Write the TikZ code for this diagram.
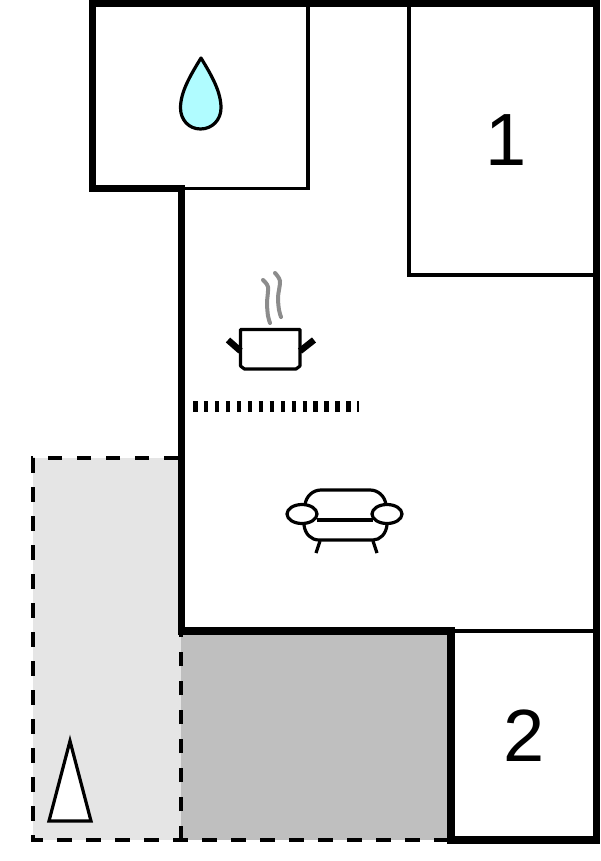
\documentclass[tikz,border=0pt]{standalone}
\usepackage{fontspec}
\setmainfont{Liberation Sans}
\definecolor{dropblue}{HTML}{B0FCFF}
\tikzset{
    wall/.style={line width=7.5pt, line cap=rect},
    thinwall/.style={line width=3.2pt},
    outline/.style={line width=3.2pt, line join=round},
    terrace/.style={line width=4pt, dash pattern=on 14.5pt off 14.5pt},
    roomnumber/.style={font=\fontsize{74}{74}\selectfont, inner sep=0pt}
}

\begin{document}
\begin{tikzpicture}[x=1pt, y=-1pt]
        \useasboundingbox (0,0) rectangle (600,861);
        % terraces
        \fill[color=black!10] (33,458) rectangle (181,840);
        \fill[color=black!25] (181,634) rectangle (449,840);
        \draw[terrace] (180.5,840) -- (180.5,634);
        \draw[terrace] (178,458) -- (33,458) -- (33,840) -- (447,840);
        % inner walls
        \draw[thinwall] (181,188.5) -- (308,188.5) -- (308,3);
        \draw[thinwall] (409,3) -- (409,275) -- (596,275);
        \draw[thinwall] (451,631) -- (596,631);
        % outer walls
        \draw[wall, line join=miter] (181.5,188.5) -- (92.5,188.5) -- (92.5,3.5) -- (596.5,3.5) -- (596.5,840) -- (451,840) -- (451,631) -- (181.5,631) -- cycle;
        % drop
        \filldraw[outline, fill=dropblue] (201,58) .. controls (190,76) and (180.5,92) .. (180.5,108) .. controls (180.5,120) and (189,129) .. (200.5,129) .. controls (212,129) and (221,120) .. (221,108) .. controls (221,92) and (212,76) .. (201,58) -- cycle;
        % pot
        \draw[color=black!45, line width=4pt, smooth, line cap=round] plot coordinates {(263,280) (268,287) (267,303) (268,316) (270,323)};
        \draw[color=black!45, line width=4pt, smooth, line cap=round] plot coordinates {(275,273) (280,281) (278,297) (279,310) (281,317)};
        \draw[line width=6.5pt] (240.5,351) -- (228,340);
        \draw[line width=6.5pt] (300,351) -- (314,340);
        \draw[outline] (240.5,329.5) -- (300,329.5) -- (300,366) -- (296,369) -- (244.5,369) -- (240.5,366) -- cycle;
        % kitchen counter
        \draw[line width=10.5pt, dash pattern=on 4.5pt off 6.45pt] (193,406.5) -- (359,406.5);
        % sofa
        \draw[outline] (305,505) .. controls (306,496) and (313,490) .. (321,490) -- (370,490) .. controls (378,490) and (385,496) .. (386,505);
        \draw[outline] (304,525) .. controls (305,534) and (311,540) .. (319,540) -- (373,540) .. controls (380,540) and (386,534) .. (387,525);
        \draw[outline] (317,520) -- (373,520);
        \draw[outline] (320,541) -- (316,553);
        \draw[outline] (373,541) -- (377,553);
        \draw[outline, fill=white] (302,514) ellipse (15 and 9.5);
        \draw[outline, fill=white] (387,514) ellipse (15 and 9.5);
        % north arrow
        \filldraw[outline, line join=miter, fill=white] (70,741) -- (91,821) -- (49,821) -- cycle;
        % room numbers
        \node[roomnumber] (roomone) at (506,140) {1};
        \node[roomnumber] (roomtwo) at (524,736) {2};
    \end{tikzpicture}
\end{document}
